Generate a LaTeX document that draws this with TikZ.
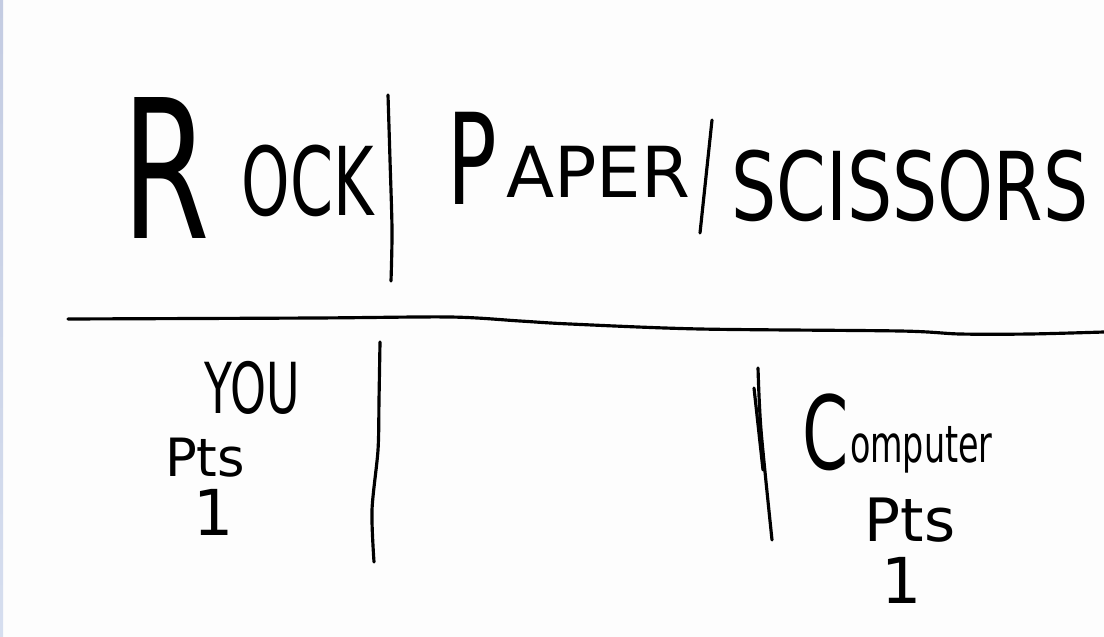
\documentclass[tikz,border=0pt]{standalone}
\usepackage{fontspec}
\newfontfamily\handfont[FakeStretch=0.65]{DejaVu Sans}
\newfontfamily\midhand[FakeStretch=0.75]{DejaVu Sans}
\newfontfamily\widehand{DejaVu Sans}
\newcommand\handsize[1]{\fontsize{#1}{#1}\selectfont}
\definecolor{paper}{HTML}{FDFDFD}
\definecolor{stripTop}{HTML}{C4CCE2}
\definecolor{stripBot}{HTML}{D6DEEF}
\tikzset{
  pen/.style={line width=0.9pt,line cap=round,line join=round},
  word/.style={inner sep=0pt,outer sep=0pt},
}

\begin{document}
\begin{tikzpicture}[x=0.01cm,y=-0.01cm]
      \useasboundingbox (0,0) rectangle (1104,637);
      \fill[paper] (0,0) rectangle (1104,637);
      \shade[top color=stripTop,bottom color=stripBot] (0,0) rectangle (3,637);
      \node[word,font=\handfont\handsize{55}] (rockR) at (166,168) {R};
      \node[word,font=\handfont\handsize{27}] (rockOCK) at (308,181) {OCK};
      \draw[pen] plot[smooth] coordinates {(388,95) (390,160) (392,230) (391,281)};
      \node[word,font=\handfont\handsize{36}] (paperP) at (472,158) {P};
      \node[word,font=\widehand\handsize{20}] (paperAPER) at (598,172) {APER};
      \draw[pen] (712,120) -- (700,233);
      \node[word,font=\midhand\handsize{27}] (scissors) at (910,186) {SCISSORS};
      \draw[pen] plot[smooth] coordinates {(68,319) (315,318) (450,317) (520,321) (570,324) (700,329) (900,331) (960,334) (1030,334) (1104,332)};
      \node[word,font=\handfont\handsize{20}] (you) at (252,388) {YOU};
      \node[word,font=\widehand\handsize{15}] (youPts) at (205,458) {Pts};
      \node[word,font=\widehand\handsize{18}] (youScore) at (214,512) {1};
      \draw[pen] plot[smooth] coordinates {(380,342) (379,400) (378,450) (372,510) (374,562)};
      \draw[pen] plot[smooth] coordinates {(758,368) (761,430) (772,540)};
      \draw[pen] (754,388) -- (763,470);
      \node[word,font=\handfont\handsize{29}] (compC) at (826,432) {C};
      \node[word,font=\handfont\handsize{14.6},anchor=base west] (compRest) at (850,462) {omputer};
      \node[word,font=\widehand\handsize{17}] (compPts) at (910,520) {Pts};
      \node[word,font=\widehand\handsize{18}] (compScore) at (902,580) {1};
    \end{tikzpicture}
\end{document}
